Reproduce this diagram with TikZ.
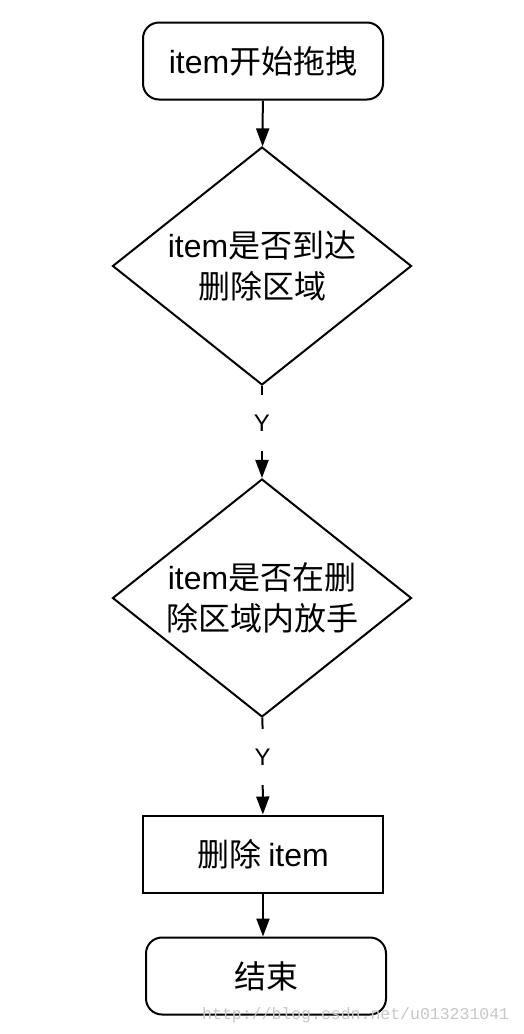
\documentclass[tikz,border=0pt]{standalone}
\usepackage{fontspec}
\setmainfont{Noto Sans CJK SC}
\newfontfamily\lat{Liberation Sans}
\newfontfamily\wmfont{Liberation Mono}
\usetikzlibrary{shapes.geometric,arrows.meta}
\tikzset{
  box/.style={draw, line width=2pt, minimum width=240pt, minimum height=77pt, inner sep=0pt, font=\fontsize{32}{41}\selectfont},
  rbox/.style={box, rounded corners=16pt},
  dia/.style={draw, diamond, line width=2pt, inner sep=0pt, minimum width=299pt, minimum height=238pt},
  dtext/.style={align=center, inner sep=0pt, font=\fontsize{32}{41}\selectfont},
  arr/.style={line width=2pt, -{Triangle[length=18pt,width=13pt]}},
  ylab/.style={fill=white, inner sep=0pt, minimum height=56pt, minimum width=20pt, font=\lat\fontsize{24}{24}\selectfont},
  wm/.style={text=black!22, inner sep=0pt, font=\wmfont\fontsize{16.5}{16.5}\selectfont}
}
\begin{document}
\begin{tikzpicture}[x=1pt,y=1pt]
\useasboundingbox[fill=white] (0,0) rectangle (524,-1034);
\node[rbox] (start) at (263,-61) {{\lat item}开始拖拽};
\node[dia, label={[dtext]center:{{\lat item}是否到达\\删除区域}}] (d1) at (262,-266) {};
\node[dia, label={[dtext]center:{{\lat item}是否在删\\除区域内放手}}] (d2) at (262,-598) {};
\node[box] (del) at (263,-854) {删除 {\lat item}};
\node[rbox] (end) at (266,-976) {结束};
\draw[arr] (start) -- (d1);
\draw[arr] (d1) -- node[ylab, pos=0.4] (y1) {Y} (d2);
\draw[arr] (d2) -- node[ylab, pos=0.41] (y2) {Y} (del);
\draw[arr] (del.south) -- (del.south |- end.north);
\node[wm, anchor=west] (wmark) at (202,-1015) {http://blog.csdn.net/u013231041};
\end{tikzpicture}
\end{document}
